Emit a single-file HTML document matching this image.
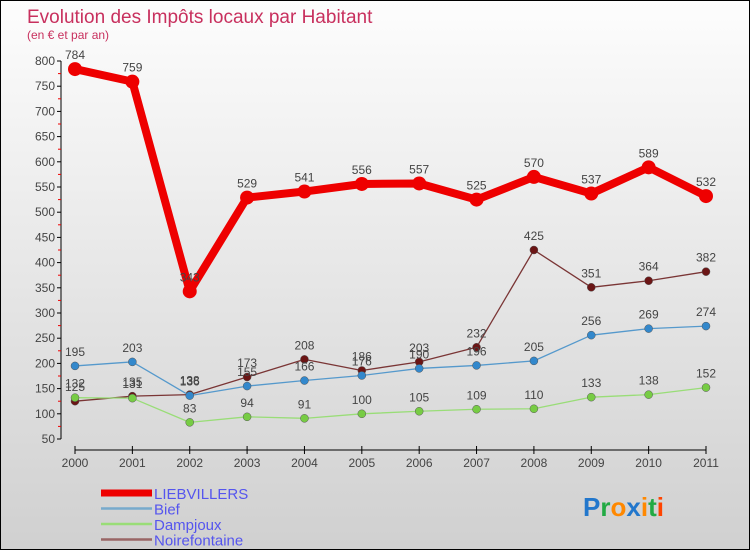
<!DOCTYPE html>
<html><head><meta charset="utf-8"><style>
html,body{margin:0;padding:0}
body{width:750px;height:550px;overflow:hidden;font-family:"Liberation Sans",sans-serif}
#wrap{position:relative;width:748px;height:548px;border:1px solid #000;background:linear-gradient(#fdfdfd,#d0d0d0)}
</style></head><body>
<div id="wrap">
<svg id="chart" width="748" height="548"></svg>
</div>
<script>
const years=["2000","2001","2002","2003","2004","2005","2006","2007","2008","2009","2010","2011"];
const liebvillers=[784,759,343,529,541,556,557,525,570,537,589,532];
const bief=[195,203,136,155,166,176,190,196,205,256,269,274];
const dampjoux=[132,131,83,94,91,100,105,109,110,133,138,152];
const noirefontaine=[125,135,138,173,208,186,203,232,425,351,364,382];
const yTicks=[50,100,150,200,250,300,350,400,450,500,550,600,650,700,750,800];
const NS="http://www.w3.org/2000/svg";
const svg=document.getElementById('chart');
const X=i=>74+i*(705-74)/11;
const Y=v=>438-(v-50)*(438-60)/750;
function mk(t,a,p){const e=document.createElementNS(NS,t);for(const k in a)e.setAttribute(k,a[k]);(p||svg).appendChild(e);return e;}
let t=mk('text',{x:26,y:22,fill:'#c8305e','font-size':19});t.textContent='Evolution des Impôts locaux par Habitant';


t=mk('text',{x:26,y:38,fill:'#c8305e','font-size':12});t.textContent='(en € et par an)';


// y axis
let ax=mk('line',{x1:60,y1:Y(800),x2:60,y2:Y(50),stroke:'#000'});


yTicks.forEach(v=>{
 mk('line',{x1:56,x2:60,y1:Y(v),y2:Y(v),stroke:'#000'});
 if(v<800) mk('line',{x1:57,x2:60,y1:Y(v+25),y2:Y(v+25),stroke:'#e00'});
 const l=mk('text',{x:54,y:Y(v)+4,'text-anchor':'end','font-size':12,fill:'#444'});l.textContent=v;
 
 
});
ax=mk('line',{x1:X(0),y1:449,x2:X(11),y2:449,stroke:'#000'});


years.forEach((y,i)=>{
 mk('line',{x1:X(i),x2:X(i),y1:445,y2:453,stroke:'#000'});
 const l=mk('text',{x:X(i),y:466,'text-anchor':'middle','font-size':12,fill:'#444'});l.textContent=y;
 
 
});
const series=[
 {name:'noirefontaine',d:noirefontaine,c:'#7a3535',w:1.3,r:4,f:'#6b1515'},
 {name:'dampjoux',d:dampjoux,c:'#99dd77',w:1.3,r:4,f:'#77cc44'},
 {name:'bief',d:bief,c:'#5599cc',w:1.3,r:4,f:'#3388cc'},
 {name:'liebvillers',d:liebvillers,c:'#ee0000',w:8,r:7,f:'#ee0000'}];
series.forEach(s=>{
 const g=mk('g',{});
 
 
 mk('polyline',{points:s.d.map((v,i)=>X(i)+','+Y(v)).join(' '),fill:'none',stroke:s.c,'stroke-width':s.w,'stroke-linejoin':'round'},g);
 s.d.forEach((v,i)=>{
  const p=mk('circle',{cx:X(i),cy:Y(v),r:s.r,fill:s.f,stroke:s.name==='liebvillers'?'none':'#555','stroke-width':0.5},g);
  
  
  const l=mk('text',{x:X(i),y:Y(v)-10,'text-anchor':'middle','font-size':12,fill:'#444'},g);l.textContent=v;
  
  
 });
});
const leg=[['LIEBVILLERS','#ee0000',7],['Bief','#77aacc',2.5],['Dampjoux','#99dd77',2.5],['Noirefontaine','#996666',2.5]];
leg.forEach((e,i)=>{
 const g=mk('g',{});
 
 
 const y=492+i*15.5;
 mk('line',{x1:100,x2:151,y1:y,y2:y,stroke:e[1],'stroke-width':e[2]},g);
 const l=mk('text',{x:153,y:y+6,'font-size':15,fill:'#5555ee'},g);l.textContent=e[0];
});
const lg=mk('text',{x:582,y:515,'font-size':26,'font-weight':'bold'});


[['P','#2277cc'],['r','#22aa44'],['o','#ff8800'],['x','#2277cc'],['i','#ff8800'],['t','#22aa44'],['i','#ff4400']].forEach(c=>{const s=mk('tspan',{fill:c[1]},lg);s.textContent=c[0];});
</script>
</body></html>
